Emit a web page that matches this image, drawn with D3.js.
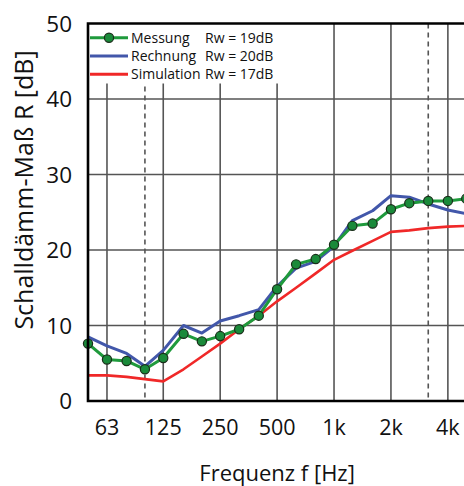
<!DOCTYPE html>
<html><head><meta charset="utf-8">
<script src="https://cdn.jsdelivr.net/npm/d3@7"></script>
<style>body{margin:0;background:#fff}svg{display:block}text{font-family:"Open Sans",sans-serif}</style>
</head><body>
<svg id="c" width="464" height="486"></svg>
<script>
const freqs = [50,63,80,100,125,160,200,250,315,400,500,630,800,1000,1250,1600,2000,2500,3150,4000,5000];
const messung = [7.6,5.5,5.3,4.2,5.7,8.9,7.9,8.6,9.5,11.3,14.8,18.1,18.8,20.7,23.2,23.5,25.4,26.2,26.5,26.5,26.8];
const rechnung = [8.5,7.3,6.3,4.6,6.7,10.0,9.0,10.6,11.3,12.1,15.2,17.6,18.5,20.5,23.9,25.2,27.2,27.0,26.1,25.3,24.8];
const simulation = [3.4,3.4,3.2,2.9,2.6,4.2,5.9,7.6,9.5,11.3,13.2,15.0,16.9,18.7,19.9,21.2,22.4,22.6,22.9,23.1,23.2];
const xTickValues = [63,125,250,500,1000,2000,4000];
const xTickLabels = ["63","125","250","500","1k","2k","4k"];
const dashedFreqs = [100,3150];
const yTicks = [0,10,20,30,40,50];
const legendNames = ["Messung","Rechnung","Simulation"];
const legendRw = ["Rw = 19dB","Rw = 20dB","Rw = 17dB"];
const colors = ["#1f9a3c","#4257aa","#f02828"];

const svg = d3.select("#c");
const L=88, R=466.2, T=23.5, B=401;
const x = d3.scaleLog().domain([50,5000]).range([L,R]);
const y = d3.scaleLinear().domain([0,50]).range([B,T]);

const g = svg.append("g");
g.selectAll(".hg").data(yTicks.filter(d=>d>0&&d<50)).enter().append("line")
 .attr("x1",L).attr("x2",R).attr("y1",d=>y(d)).attr("y2",d=>y(d))
 .attr("stroke","#555").attr("stroke-width",1.6);
g.selectAll(".vg").data(xTickValues).enter().append("line")
 .attr("x1",d=>x(d)).attr("x2",d=>x(d)).attr("y1",T).attr("y2",B)
 .attr("stroke","#555").attr("stroke-width",1.6);
g.selectAll(".dg").data(dashedFreqs).enter().append("line")
 .attr("x1",d=>x(d)).attr("x2",d=>x(d)).attr("y1",T).attr("y2",B)
 .attr("stroke","#555").attr("stroke-width",1.6).attr("stroke-dasharray","5,4");

const series=[messung,rechnung,simulation];
const line = d3.line().x((d,i)=>x(freqs[i])).y(d=>y(d));
[2,1,0].forEach(k=>{
  svg.append("path").datum(series[k]).attr("d",line).attr("fill","none")
    .attr("stroke",colors[k]).attr("stroke-width",k==2?2.6:3).attr("stroke-linejoin","round");
});
svg.selectAll(".pt").data(messung).enter().append("circle")
  .attr("cx",(d,i)=>x(freqs[i])).attr("cy",d=>y(d)).attr("r",4.6)
  .attr("fill","#1a8a3a").attr("stroke","#1a2e1a").attr("stroke-width",1.2);

const lg = svg.append("g");
lg.append("rect").attr("x",L).attr("y",T).attr("width",192).attr("height",60).attr("fill","#fff");
legendNames.forEach((n,i)=>{
  const yy = 37.7 + i*18.3;
  lg.append("line").attr("x1",90).attr("x2",128).attr("y1",yy).attr("y2",yy)
    .attr("stroke",colors[i]).attr("stroke-width",3);
  if(i==0) lg.append("circle").attr("cx",109).attr("cy",yy).attr("r",4.6)
    .attr("fill","#1a8a3a").attr("stroke","#1a2e1a").attr("stroke-width",1.2);
  lg.append("text").attr("x",131).attr("y",yy).attr("dy","0.35em").attr("font-size",14).attr("fill","#111").text(n);
  lg.append("text").attr("x",205).attr("y",yy).attr("dy","0.35em").attr("font-size",14).attr("fill","#111").text(legendRw[i]);
});

svg.append("path").attr("d",`M${R},${T}H${L}V${B}H${R}`).attr("fill","none")
  .attr("stroke","#000").attr("stroke-width",2.6);

svg.selectAll(".yl").data(yTicks).enter().append("text")
  .attr("x",72).attr("y",d=>y(d)).attr("dy","0.36em").attr("text-anchor","end")
  .attr("font-size",22.5).attr("fill","#111").text(d=>d);
svg.selectAll(".xl").data(xTickValues).enter().append("text")
  .attr("x",d=>x(d)).attr("y",435).attr("text-anchor","middle")
  .attr("font-size",21.5).attr("fill","#111").text((d,i)=>xTickLabels[i]);
svg.append("text").attr("x",x(500)).attr("y",481).attr("text-anchor","middle")
  .attr("font-size",22).attr("fill","#111").text("Frequenz f [Hz]");
svg.append("text").attr("transform","translate(33,190) rotate(-90)").attr("text-anchor","middle")
  .attr("font-size",25).attr("fill","#111").text("Schalldämm-Maß R [dB]");
</script>
</body></html>
